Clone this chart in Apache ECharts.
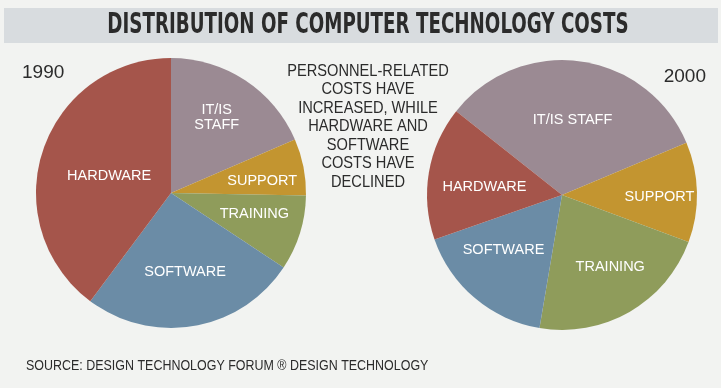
<!DOCTYPE html>
<html><head><meta charset="utf-8">
<script src="https://cdn.jsdelivr.net/npm/echarts@6/dist/echarts.min.js"></script>
<style>html,body{margin:0;padding:0;background:#f2f3f1;}#c{width:721px;height:388px;}</style>
</head><body><div id="c"></div>
<script>
var categories = ['IT/IS STAFF', 'SUPPORT', 'TRAINING', 'SOFTWARE', 'HARDWARE'];
var values1990 = [18.5, 6.8, 9, 25.9, 39.8];
var values2000 = [33, 12, 22, 17, 16];
var years = ['1990', '2000'];
var titleText = 'DISTRIBUTION OF COMPUTER TECHNOLOGY COSTS';
var noteText = 'PERSONNEL-RELATED\nCOSTS HAVE\nINCREASED, WHILE\nHARDWARE AND\nSOFTWARE\nCOSTS HAVE\nDECLINED';
var sourceText = 'SOURCE: DESIGN TECHNOLOGY FORUM \u00AE DESIGN TECHNOLOGY';

var colors = ['#9b8a93', '#c39530', '#8f9c5b', '#6b8ca6', '#a5554b'];
var offsets1990 = [[7,-17],[22,2],[16,0],[2,10],[5,5]];
var offsets2000 = [[1,-5],[27,3],[13,11],[-13,1],[-8,4]];

function buildData(vals, offs, wrapStaff) {
  return categories.map(function (n, i) {
    return {
      name: n, value: vals[i],
      itemStyle: { color: colors[i] },
      label: { offset: offs[i], formatter: (wrapStaff && i === 0) ? 'IT/IS\nSTAFF' : n }
    };
  });
}

var labelStyle = { show: true, position: 'inside', color: '#ffffff', fontFamily: 'Liberation Sans, Arial, sans-serif', fontSize: 14.5, lineHeight: 15 };

var chart = echarts.init(document.getElementById('c'), null, { renderer: 'canvas' });
chart.setOption({
  backgroundColor: '#f2f3f1',
  animation: false,
  graphic: [
    { type: 'rect', shape: { x: 4, y: 8, width: 714, height: 35 }, style: { fill: '#d8dcdf' }, z: 0 },
    { type: 'text', x: 368, y: 26, scaleX: 0.725, style: { text: titleText, textAlign: 'center', textVerticalAlign: 'middle', fill: '#2b2b2b', font: 'bold 28px "DejaVu Sans Condensed", sans-serif' }, z: 1 },
    { type: 'text', x: 22, y: 73, style: { text: years[0], textVerticalAlign: 'middle', fill: '#2b2b2b', font: '19px "Liberation Sans", Arial, sans-serif' } },
    { type: 'text', x: 706, y: 77, style: { text: years[1], textAlign: 'right', textVerticalAlign: 'middle', fill: '#2b2b2b', font: '19px "Liberation Sans", Arial, sans-serif' } },
    { type: 'text', x: 368, y: 62, scaleX: 0.86, style: { text: noteText, textAlign: 'center', fill: '#2b2b2b', font: '17px "Liberation Sans", Arial, sans-serif', lineHeight: 18.5 } },
    { type: 'text', x: 26, y: 366, scaleX: 0.89, style: { text: sourceText, textVerticalAlign: 'middle', fill: '#2b2b2b', font: '14px "Liberation Sans", Arial, sans-serif' } }
  ],
  series: [
    { type: 'pie', center: [171, 193], radius: 135, startAngle: 90, clockwise: true,
      label: labelStyle, labelLine: { show: false }, emphasis: { disabled: true },
      data: buildData(values1990, offsets1990, true) },
    { type: 'pie', center: [562, 195], radius: 135, startAngle: 141.6, clockwise: true,
      label: labelStyle, labelLine: { show: false }, emphasis: { disabled: true },
      data: buildData(values2000, offsets2000, false) }
  ]
});
</script></body></html>
